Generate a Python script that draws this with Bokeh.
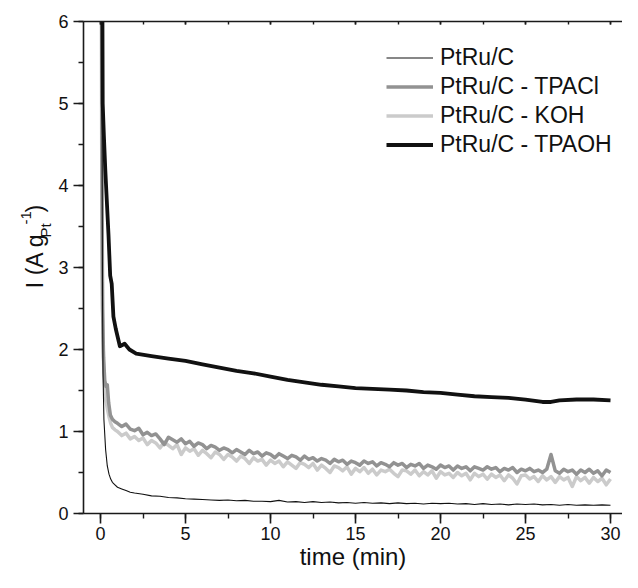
import numpy as np
from bokeh.plotting import figure
from bokeh.layouts import row
from bokeh.models import (LinearAxis, SingleIntervalTicker, Legend, LegendItem,
                          Range1d, CustomJSTickFormatter)
from bokeh.core.properties import value
from bokeh.embed import file_html
from bokeh.resources import INLINE

FONT = "Liberation Sans"

# ---------------- data ----------------
# PtRu/C (thin black)
t_ptru = [0.08, 0.10, 0.12, 0.15, 0.20, 0.30, 0.40, 0.50, 0.60, 0.70, 0.85, 1.00,
          1.25, 1.50, 1.75, 2.00, 2.5, 3.0, 3.5, 4.0, 4.5, 5.0, 5.5, 6.0, 6.5, 7.0,
          7.5, 8.0, 8.5, 9.0, 9.5, 10.0, 10.5, 11.0, 11.5, 12.0, 12.5, 13.0, 13.5,
          14.0, 14.5, 15.0, 15.5, 16.0, 16.5, 17.0, 17.5, 18.0, 18.5, 19.0, 19.5,
          20.0, 20.5, 21.0, 21.5, 22.0, 22.5, 23.0, 23.5, 24.0, 24.5, 25.0, 25.5,
          26.0, 26.5, 27.0, 27.5, 28.0, 28.5, 29.0, 29.5, 30.0]
i_ptru = [7.0, 4.0, 2.6, 1.7, 1.15, 0.78, 0.58, 0.48, 0.42, 0.38, 0.35, 0.32,
          0.30, 0.28, 0.26, 0.25, 0.235, 0.215, 0.21, 0.195, 0.19, 0.18, 0.175, 0.17,
          0.165, 0.16, 0.165, 0.155, 0.16, 0.15, 0.15, 0.145, 0.16, 0.14, 0.145, 0.135,
          0.145, 0.135, 0.14, 0.13, 0.135, 0.125, 0.135, 0.125, 0.13, 0.12, 0.13, 0.12,
          0.125, 0.115, 0.125, 0.12, 0.125, 0.115, 0.12, 0.11, 0.12, 0.11, 0.115, 0.105,
          0.115, 0.11, 0.115, 0.105, 0.11, 0.10, 0.11, 0.10, 0.105, 0.10, 0.105, 0.10]

# time grid (0.25 min sampling) of the noisy records after the first minute
t_grid = [1.0 + 0.25 * k for k in range(117)]

# PtRu/C - TPACl (mid grey)
t_tpacl_start = [0.06, 0.09, 0.12, 0.18, 0.25, 0.32, 0.40, 0.48, 0.58, 0.70, 0.85]
i_tpacl_start = [7.0, 4.2, 2.5, 1.9, 1.62, 1.55, 1.57, 1.35, 1.20, 1.15, 1.12]
i_tpacl = [1.10, 1.06, 1.09, 1.03,
           1.01, 1.04, 0.96, 0.99,
           0.95, 0.97, 0.91, 0.84,
           0.93, 0.90, 0.87, 0.91,
           0.85, 0.88, 0.82, 0.86,
           0.84, 0.79, 0.83, 0.81,
           0.77, 0.80, 0.78, 0.74,
           0.78, 0.75, 0.72, 0.77,
           0.73, 0.75, 0.70, 0.74,
           0.72, 0.68, 0.73, 0.70,
           0.67, 0.71, 0.69, 0.65,
           0.70, 0.66, 0.68, 0.64,
           0.67, 0.65, 0.61, 0.66,
           0.63, 0.65, 0.60, 0.64,
           0.62, 0.59, 0.64, 0.61,
           0.63, 0.58, 0.62, 0.60,
           0.57, 0.62, 0.59, 0.61,
           0.56, 0.60, 0.58, 0.61,
           0.55, 0.59, 0.57, 0.54,
           0.59, 0.56, 0.58, 0.53,
           0.58, 0.55, 0.57, 0.52,
           0.57, 0.55, 0.53, 0.57,
           0.54, 0.56, 0.51, 0.55,
           0.53, 0.56, 0.50, 0.54,
           0.52, 0.55, 0.51, 0.53,
           0.50, 0.54, 0.72, 0.52,
           0.49, 0.54, 0.51, 0.53,
           0.48, 0.53, 0.50, 0.54,
           0.49, 0.52, 0.46, 0.53,
           0.50]

# PtRu/C - KOH (light grey)
t_koh_start = [0.04, 0.07, 0.10, 0.15, 0.20, 0.30, 0.40, 0.50, 0.60, 0.70, 0.85]
i_koh_start = [7.0, 4.5, 3.0, 2.1, 1.7, 1.40, 1.28, 1.18, 1.10, 1.05, 1.02]
i_koh = [1.00, 0.95, 0.98, 0.91,
         0.94, 0.89, 0.92, 0.84,
         0.89, 0.86, 0.80, 0.87,
         0.83, 0.79, 0.84, 0.72,
         0.80, 0.76, 0.79, 0.71,
         0.77, 0.73, 0.68, 0.75,
         0.72, 0.66, 0.72, 0.69,
         0.64, 0.70, 0.67, 0.61,
         0.68, 0.64, 0.66, 0.59,
         0.65, 0.61, 0.64, 0.57,
         0.63, 0.59, 0.55, 0.62,
         0.60, 0.56, 0.61, 0.53,
         0.59, 0.55, 0.50, 0.58,
         0.56, 0.52, 0.57, 0.48,
         0.55, 0.51, 0.56, 0.49,
         0.54, 0.47, 0.53, 0.51,
         0.54, 0.49, 0.45, 0.53,
         0.52, 0.48, 0.53, 0.46,
         0.51, 0.47, 0.52, 0.43,
         0.51, 0.47, 0.49, 0.44,
         0.50, 0.46, 0.49, 0.41,
         0.49, 0.45, 0.48, 0.42,
         0.48, 0.44, 0.47, 0.40,
         0.47, 0.43, 0.36, 0.46,
         0.47, 0.42, 0.45, 0.39,
         0.46, 0.41, 0.45, 0.38,
         0.45, 0.41, 0.44, 0.33,
         0.45, 0.40, 0.44, 0.37,
         0.44, 0.39, 0.43, 0.35,
         0.42]

# PtRu/C - TPAOH (thick black)
t_tpaoh = [0.10, 0.13, 0.20, 0.28, 0.35, 0.47, 0.57, 0.66, 0.76, 0.90, 1.14, 1.42,
           1.70, 2.10, 3, 4, 5, 6, 7, 8, 9, 10, 11, 12, 13, 14, 15, 16, 17, 18, 19,
           20, 21, 22, 23, 24, 25, 26, 26.5, 27, 28, 29, 30]
i_tpaoh = [7.0, 5.0, 4.6, 4.2, 3.9, 3.4, 2.9, 2.8, 2.4, 2.25, 2.04, 2.07,
           2.0, 1.95, 1.92, 1.89, 1.86, 1.82, 1.78, 1.74, 1.71, 1.67, 1.63, 1.60,
           1.57, 1.55, 1.53, 1.52, 1.51, 1.50, 1.48, 1.47, 1.45, 1.43, 1.42, 1.41,
           1.39, 1.36, 1.36, 1.38, 1.39, 1.39, 1.38]

labels = ["PtRu/C", "PtRu/C - TPACl", "PtRu/C - KOH", "PtRu/C - TPAOH"]
x_title = "time (min)"
y_title_parts = ["I (A g", "Pt", "-1", " )"]
x_tick_interval = 5
y_tick_interval = 1

# ---------------- layout ----------------
TOTAL_W, TOTAL_H = 622, 572
LEFT_W = 54                      # strip holding the y title
W = TOTAL_W - LEFT_W
H = TOTAL_H
FRAME_L = 83 - LEFT_W            # inside main figure
FRAME_T = 21
PX_PER_MIN = 17.0
X0 = -17.0 / PX_PER_MIN
X1 = X0 + (W - FRAME_L) / PX_PER_MIN

p = figure(width=W, height=H, output_backend="svg", toolbar_location=None,
           x_range=Range1d(X0, X1), y_range=Range1d(0, 6),
           min_border_left=FRAME_L, min_border_right=0,
           min_border_top=FRAME_T, min_border_bottom=56,
           x_axis_location=None, y_axis_location=None)
p.outline_line_color = None
p.grid.visible = False

AX_COLOR = "#1a1a1a"

xaxis = LinearAxis(ticker=SingleIntervalTicker(interval=x_tick_interval, num_minor_ticks=2))
yaxis = LinearAxis(ticker=SingleIntervalTicker(interval=y_tick_interval, num_minor_ticks=2))
topaxis = LinearAxis(ticker=SingleIntervalTicker(interval=x_tick_interval, num_minor_ticks=2),
                     formatter=CustomJSTickFormatter(code="return ''"))

for ax in (xaxis, yaxis, topaxis):
    ax.axis_line_color = AX_COLOR
    ax.axis_line_width = 1.6
    ax.major_tick_line_color = AX_COLOR
    ax.minor_tick_line_color = AX_COLOR
    ax.major_tick_line_width = 1.6
    ax.minor_tick_line_width = 1.4
    ax.major_label_text_font = FONT
    ax.major_label_text_font_size = "18px"
    ax.major_label_text_color = "#111111"

xaxis.major_tick_in = 0
xaxis.major_tick_out = 10
xaxis.minor_tick_in = 0
xaxis.minor_tick_out = 5
xaxis.major_label_standoff = 3
xaxis.axis_label = x_title
xaxis.axis_label_text_font = FONT
xaxis.axis_label_text_font_size = "24px"
xaxis.axis_label_text_font_style = "normal"
xaxis.axis_label_text_color = "#111111"
xaxis.axis_label_standoff = 0

yaxis.major_tick_in = 0
yaxis.major_tick_out = 10
yaxis.minor_tick_in = 0
yaxis.minor_tick_out = 5
yaxis.major_label_standoff = 5

topaxis.major_tick_in = 3
topaxis.major_tick_out = 0
topaxis.minor_tick_in = 3
topaxis.minor_tick_out = 0
topaxis.major_label_text_font_size = "10px"
topaxis.major_label_standoff = 0

p.add_layout(xaxis, "below")
p.add_layout(yaxis, "left")
p.add_layout(topaxis, "above")

# ---------------- curves ----------------
r_koh = p.line(t_koh_start + t_grid, i_koh_start + i_koh,
               line_color="#cbcbcb", line_width=3.5, line_join="round")
r_tpacl = p.line(t_tpacl_start + t_grid, i_tpacl_start + i_tpacl,
                 line_color="#929292", line_width=3.5, line_join="round")
r_ptru = p.line(t_ptru, i_ptru, line_color="#111111", line_width=1.1)
r_tpaoh = p.line(t_tpaoh, i_tpaoh, line_color="#111111", line_width=3.8,
                 line_join="round")

legend = Legend(items=[LegendItem(label=labels[0], renderers=[r_ptru]),
                       LegendItem(label=labels[1], renderers=[r_tpacl]),
                       LegendItem(label=labels[2], renderers=[r_koh]),
                       LegendItem(label=labels[3], renderers=[r_tpaoh])],
                location=(303, 354))
legend.padding = 0
legend.margin = 0
legend.spacing = 0
legend.glyph_width = 47
legend.glyph_height = 29
legend.label_height = 29
legend.label_standoff = 7
legend.label_text_font = FONT
legend.label_text_font_size = "23px"
legend.label_text_color = "#111111"
legend.border_line_color = None
legend.background_fill_alpha = 0
p.add_layout(legend)

# ---------------- y title strip (page pixel coordinates) ----------------
ly = figure(width=LEFT_W, height=TOTAL_H, output_backend="svg", toolbar_location=None,
            x_range=Range1d(0, LEFT_W), y_range=Range1d(TOTAL_H, 0),
            min_border=0, x_axis_location=None, y_axis_location=None)
ly.outline_line_color = None
ly.grid.visible = False
# (text, baseline x, start y, size)
y_pieces = [(y_title_parts[0], 34, 310, "23px"),
            (y_title_parts[1], 45, 251, "15px"),
            (y_title_parts[2], 25, 236, "15px"),
            (y_title_parts[3], 34, 222, "23px")]
for txt, bx, sy, fs in y_pieces:
    ly.text(x=[bx], y=[sy], text=[txt], angle=np.pi / 2,
            text_font=value(FONT), text_font_size=value(fs), text_color="#111111",
            text_align="left", text_baseline="alphabetic")

layout = row(ly, p, spacing=0)
open("out.html", "w").write(file_html(layout, INLINE))
